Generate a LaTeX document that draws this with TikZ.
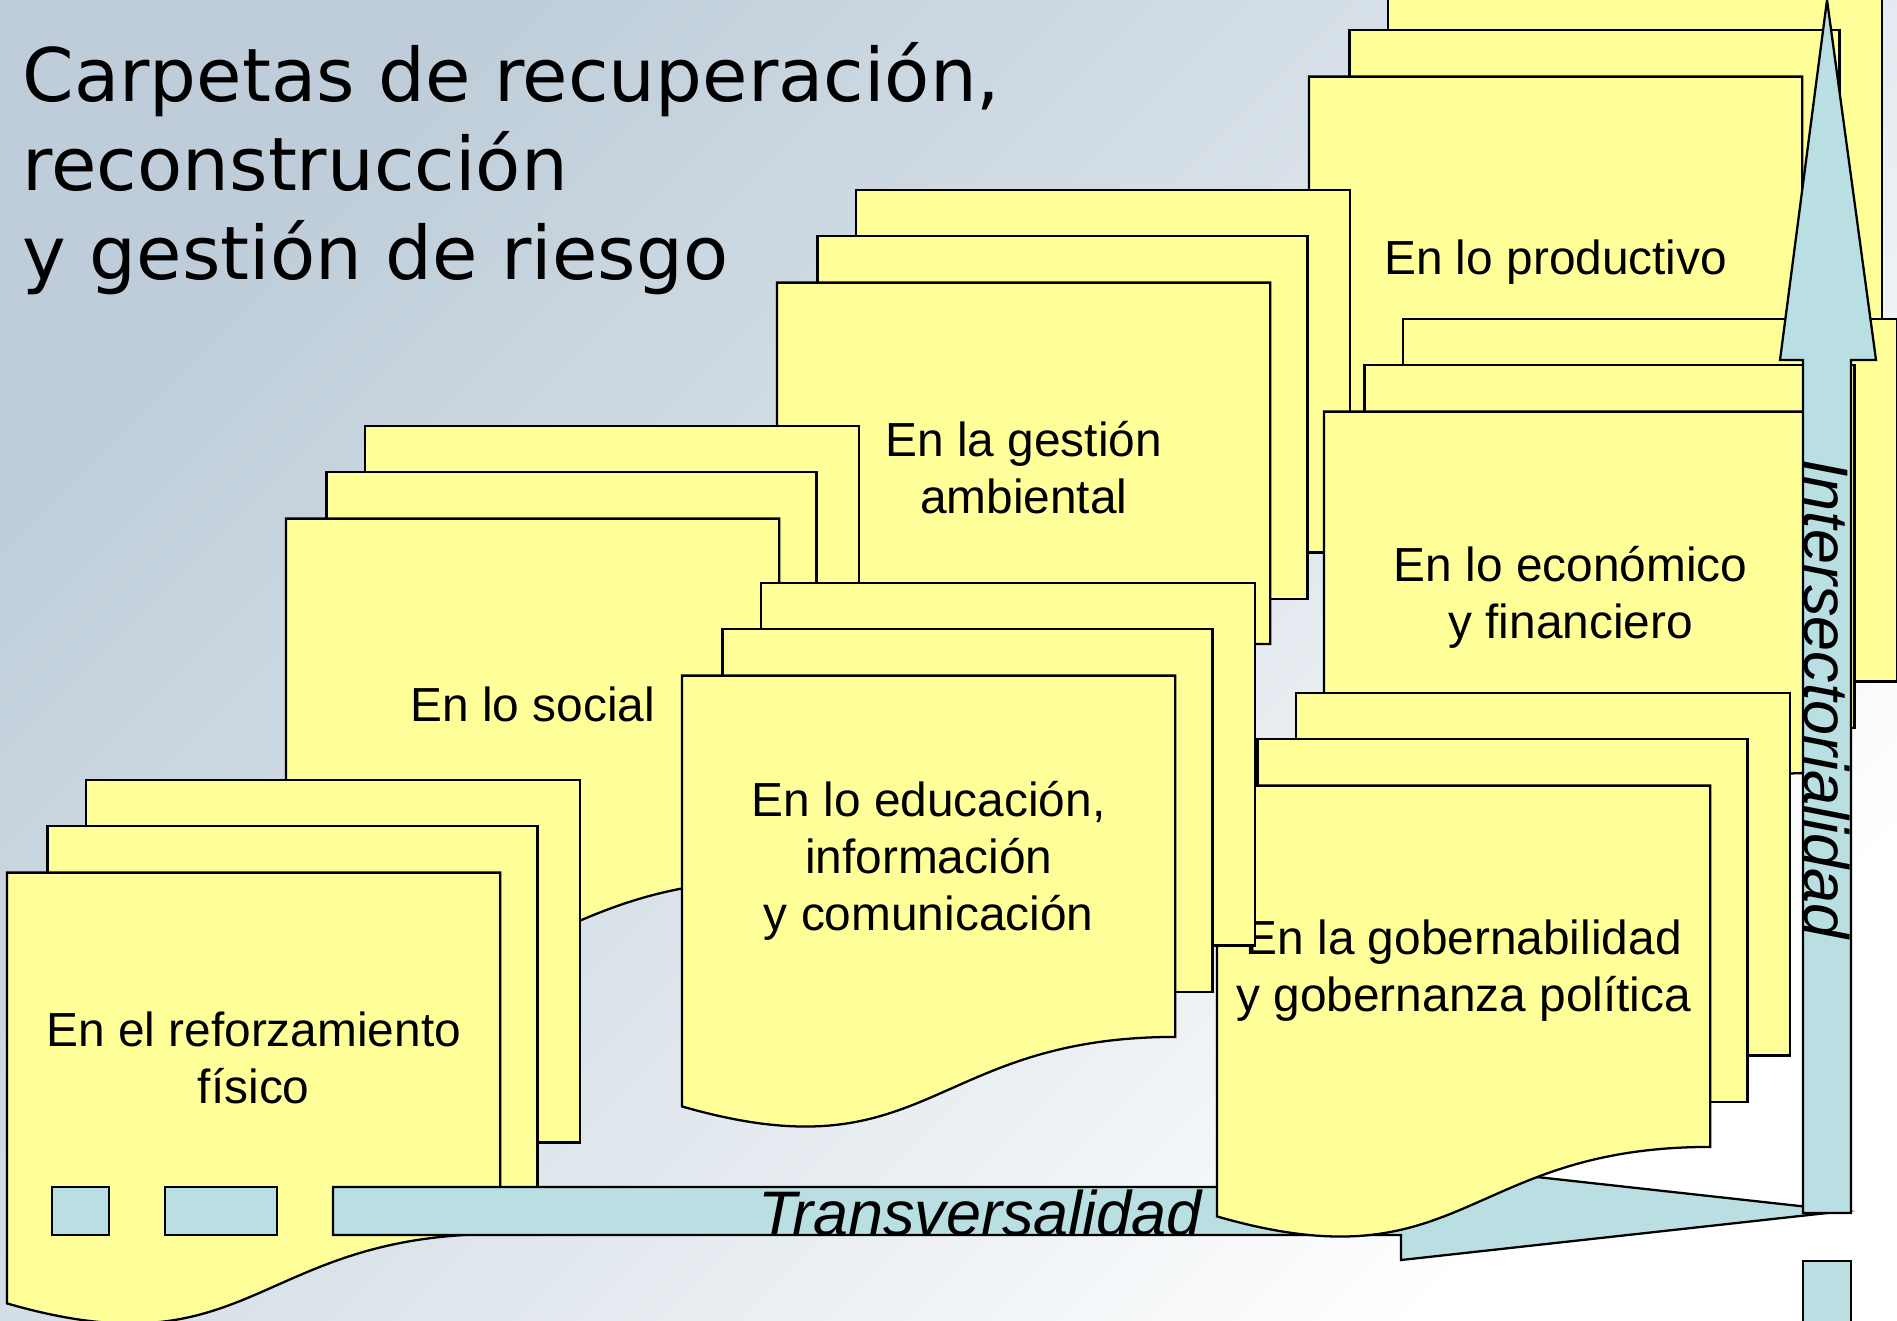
\documentclass[tikz,border=0pt]{standalone}
\usepackage{fontspec}
\setmainfont{Liberation Sans}
\newfontfamily\titlefont{DejaVu Sans}
\definecolor{amarillo}{RGB}{255,255,153}
\definecolor{celeste}{RGB}{186,223,227}
\definecolor{fondo}{RGB}{190,205,217}

% Folder of three sheets: #1 name, #2 #3 top left corner, #4 text
\newcommand{\carpeta}[4]{%
    \begin{scope}[shift={(#2,#3)}]
        \draw [hoja] (78.8,0) rectangle (573,362.5);
        \draw [hoja] (40.6,45.7) rectangle (530.6,409.3);
        \draw [hoja] (0,92.6) -- (493.3,92.6) -- (493.3,453.9)
            .. controls (246.7,453.9) and (246.7,594.6) .. (0,523.4) -- cycle;
        \node [etiqueta] (#1) at (246.7,278) {#4};
    \end{scope}}

\begin{document}
\begin{tikzpicture}[
    % GLOBAL CFG
    x=0.01cm, y=-0.01cm,
    % Styles
    hoja/.style={% For each sheet of a folder
        draw=black,
        line width=0.65pt,
        fill=amarillo,
    },
    etiqueta/.style={% For the folder texts
        align=center,
        inner sep=0pt,
        font=\fontsize{13.6}{16.2}\selectfont,
    },
    flecha/.style={% For the blue block arrows
        draw=black,
        line width=0.65pt,
        fill=celeste,
    },
    eje/.style={% For the arrow texts
        inner sep=0pt,
        font=\fontsize{17.9}{21}\selectfont\itshape,
    },
    titulo/.style={
        align=left,
        inner sep=0pt,
        font=\titlefont\fontsize{21}{25.3}\selectfont,
    },
    ]
    % Canvas
    \useasboundingbox (0,0) rectangle (1897,1320);
    \clip (0,0) rectangle (1897,1320);
    \shade [top color=fondo, bottom color=white, middle color=fondo!55, shading angle=45]
        (0,0) rectangle (1897,1320);

    % Title
    \node [titulo, anchor=north west] (titulo) at (22,42)
        {Carpetas de recuperación,\\reconstrucción\\y gestión de riesgo};

    % Draw folders, back ones first
    \carpeta{prod}{1309}{-16}{En lo productivo}
    \carpeta{amb}{777}{190}{En la gestión\\ambiental}
    \carpeta{soc}{286}{426}{En lo social}
    \carpeta{eco}{1324}{319}{En lo económico\\y financiero}
    \carpeta{fis}{7}{780}{En el reforzamiento\\físico}

    % Horizontal arrow
    \draw [flecha] (52,1187) rectangle (109,1235);
    \draw [flecha] (165,1187) rectangle (277,1235);
    \draw [flecha] (333,1187) -- (1401,1187) -- (1401,1162) -- (1845,1211)
        -- (1401,1260) -- (1401,1235) -- (333,1235) -- cycle;
    \node [eje, anchor=base west] (transv) at (758,1235) {Transversalidad};

    % Front folders
    \carpeta{gob}{1217}{693}{En la gobernabilidad\\y gobernanza política}
    \carpeta{edu}{682}{583}{En lo educación,\\información\\y comunicación}

    % Vertical arrow
    \draw [flecha] (1803,1213) -- (1803,360) -- (1780,360) -- (1827,0)
        -- (1876,360) -- (1851,360) -- (1851,1213) -- cycle;
    \draw [flecha] (1803,1261) rectangle (1851,1340);
    \node [eje, rotate=-90] (inter) at (1827,699) {Intersectorialidad};

\end{tikzpicture}
\end{document}
